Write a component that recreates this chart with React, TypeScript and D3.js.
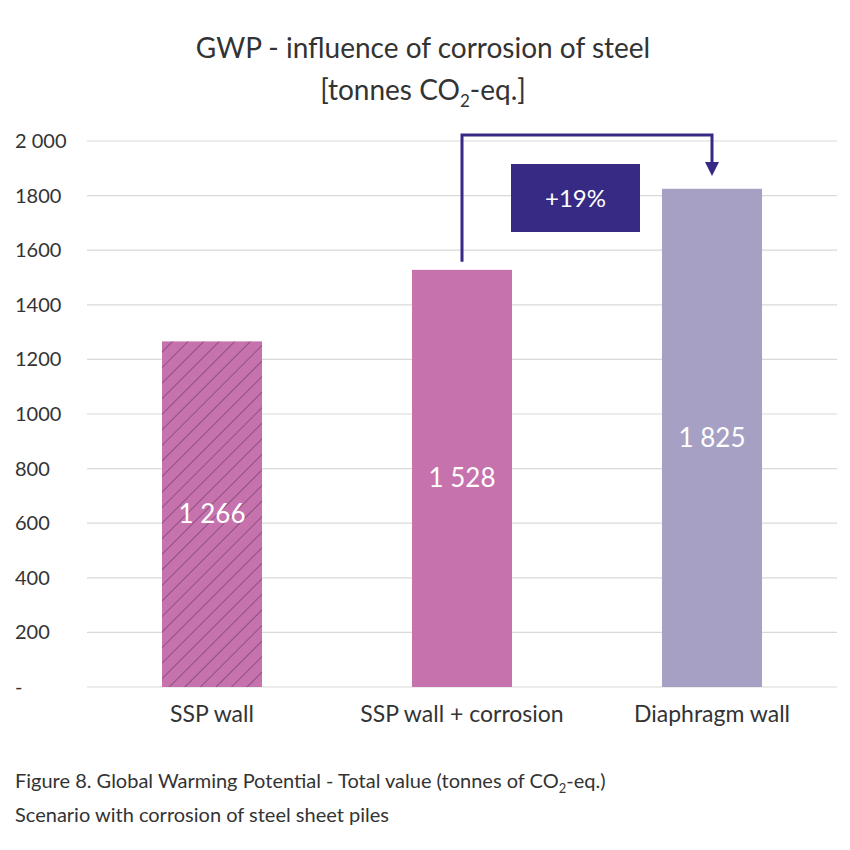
import React from "react";
import * as d3 from "d3";

const categories = ["SSP wall", "SSP wall + corrosion", "Diaphragm wall"];
const values = [1266, 1528, 1825];
const valueLabels = ["1 266", "1 528", "1 825"];
const yTicks = [0, 200, 400, 600, 800, 1000, 1200, 1400, 1600, 1800, 2000];
const yTickLabels = ["-", "200", "400", "600", "800", "1000", "1200", "1400", "1600", "1800", "2 000"];
const fills = ["#c672ad", "#c672ad", "#a6a1c4"];
const annotation = "+19%";

export default function App() {
  const W = 850, H = 850;
  const font = "Lato, 'Noto Sans', sans-serif";
  const y = d3.scaleLinear().domain([0, 2000]).range([687, 141]);
  const x = d3.scaleBand().domain(categories).range([87, 837]).paddingInner(0.6).paddingOuter(0.3);
  const dark = "#372a85";
  const c1 = x(categories[1])! + x.bandwidth() / 2;
  const c2 = x(categories[2])! + x.bandwidth() / 2;
  return (
    <svg width={W} height={H} style={{ position: "absolute", left: 0, top: 0, background: "#fff" }} fontFamily={font}>
      <defs>
        <pattern id="hatch" patternUnits="userSpaceOnUse" width="11" height="11" patternTransform="rotate(45)">
          <rect width="11" height="11" fill="#c672ad" />
          <line x1="0" y1="0" x2="0" y2="11" stroke="#8e4f82" strokeWidth="2" />
        </pattern>
      </defs>
      <text x={423} y={58} textAnchor="middle" fontSize={28} fill="#333">GWP - influence of corrosion of steel</text>
      <text x={423} y={100} textAnchor="middle" fontSize={28} fill="#333">
        [tonnes CO<tspan fontSize={17} dy={7}>2</tspan><tspan dy={-7}>-eq.]</tspan>
      </text>
      {yTicks.map((t, i) => (
        <g key={t}>
          <line x1={87} x2={837} y1={y(t)} y2={y(t)} stroke="#d9d9d9" strokeWidth={1.2} />
          <text x={15} y={y(t) + 7} fontSize={20} fill="#333">{yTickLabels[i]}</text>
        </g>
      ))}
      {categories.map((c, i) => {
        const bx = x(c)!;
        return (
          <g key={c}>
            <rect x={bx} y={y(values[i])} width={x.bandwidth()} height={y(0) - y(values[i])} fill={i === 0 ? "url(#hatch)" : fills[i]} />
            <text x={bx + x.bandwidth() / 2} y={(y(values[i]) + y(0)) / 2 + 9} textAnchor="middle" fontSize={26} fill="#fff">{valueLabels[i]}</text>
            <text x={bx + x.bandwidth() / 2} y={722} textAnchor="middle" fontSize={23} fill="#333">{c}</text>
          </g>
        );
      })}
      <path d={`M${c1},${y(values[1]) - 8} V135 H${c2} V168`} fill="none" stroke={dark} strokeWidth={3} />
      <path d={`M${c2 - 7},162 L${c2 + 7},162 L${c2},176 Z`} fill={dark} />
      <rect x={511} y={164} width={129} height={68} fill={dark} />
      <text x={575.5} y={207} textAnchor="middle" fontSize={24} fill="#fff">{annotation}</text>
      <text x={15} y={788} fontSize={20} fill="#333">
        Figure 8. Global Warming Potential - Total value (tonnes of CO<tspan fontSize={13} dy={5}>2</tspan><tspan dy={-5}>-eq.)</tspan>
      </text>
      <text x={15} y={822} fontSize={20} fill="#333">Scenario with corrosion of steel sheet piles</text>
    </svg>
  );
}
